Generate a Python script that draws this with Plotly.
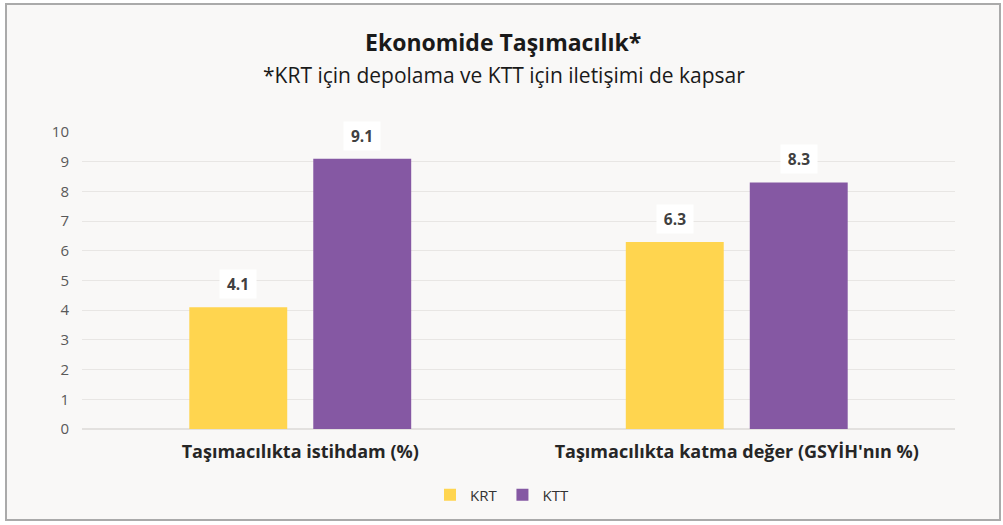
import plotly.graph_objects as go

categories = ["Taşımacılıkta istihdam (%)", "Taşımacılıkta katma değer (GSYİH'nın %)"]
series_names = ["KRT", "KTT"]
krt_values = [4.1, 6.3]
ktt_values = [9.1, 8.3]
y_ticks = [0, 1, 2, 3, 4, 5, 6, 7, 8, 9, 10]
title_text = "Ekonomide Taşımacılık*"
subtitle_text = "*KRT için depolama ve KTT için iletişimi de kapsar"

colors = ["#FFD54F", "#8558A3"]
font_family = "Open Sans"

fig = go.Figure()
for name, vals, col in zip(series_names, [krt_values, ktt_values], colors):
    fig.add_trace(go.Bar(name=name, x=categories, y=vals, marker=dict(color=col, line=dict(width=0))))

L, R, T, B = 82, 48, 132, 96
pw, ph = 1003 - L - R, 525 - T - B

def px_x(px):
    return (px - L) / pw

def px_y(py):
    return (525 - B - py) / ph

# frame
fig.add_shape(type="rect", xref="paper", yref="paper",
              x0=px_x(6), x1=px_x(1000), y0=px_y(520), y1=px_y(4),
              line=dict(color="#AAAAAA", width=2), fillcolor="#F9F8F7", layer="below")

# data labels
offsets = [-62, 62]
for vals, off in zip([krt_values, ktt_values], offsets):
    for c, v in zip(categories, vals):
        fig.add_annotation(x=c, y=v, text="<b>%.1f</b>" % v, showarrow=False,
                           xshift=off, yshift=23, yanchor="middle",
                           width=26, height=18, borderpad=5,
                           font=dict(family=font_family, size=15.5, color="#404040"),
                           bgcolor="white")

fig.add_annotation(xref="paper", yref="paper", x=px_x(503), y=px_y(42),
                   text="<b>" + title_text + "</b>", showarrow=False, yanchor="middle",
                   font=dict(family=font_family, size=23, color="#1a1a1a"))
fig.add_annotation(xref="paper", yref="paper", x=px_x(504), y=px_y(75),
                   text=subtitle_text, showarrow=False, yanchor="middle",
                   font=dict(family=font_family, size=21, color="#1a1a1a"))

fig.update_layout(
    width=1003, height=525,
    margin=dict(l=L, r=R, t=T, b=B),
    paper_bgcolor="white", plot_bgcolor="rgba(0,0,0,0)",
    barmode="group", bargap=0.432, bargroupgap=0.21,
    font=dict(family=font_family),
    showlegend=True,
    legend=dict(orientation="h", x=px_x(502), xanchor="center", y=px_y(495), yanchor="middle",
                font=dict(family=font_family, size=15, color="#333333"),
                bgcolor="rgba(0,0,0,0)", itemwidth=30),
    xaxis=dict(showgrid=False, showline=False, ticks="",
               tickfont=dict(family=font_family, size=18, color="#262626", weight="bold"),
               ticklabelstandoff=10),
    yaxis=dict(range=[0, 10], tickvals=y_ticks, showgrid=True, gridcolor="#E8E6E4", gridwidth=1,
               zeroline=True, zerolinecolor="#E3E1DF", zerolinewidth=2,
               tickfont=dict(family=font_family, size=15, color="#595959"), ticklabelstandoff=12),
)

fig.write_html("out.html", config={"displayModeBar": False},
               post_script="document.body.style.margin='0';")
